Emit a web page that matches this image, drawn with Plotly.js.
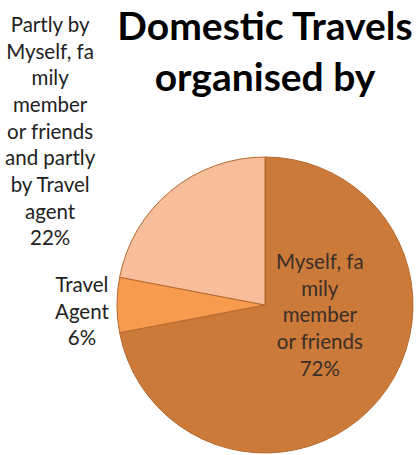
<!DOCTYPE html>
<html><head><meta charset="utf-8">
<script src="https://cdn.plot.ly/plotly-3.0.1.min.js"></script>
<style>html,body{margin:0;padding:0;background:#fff;}#chart{width:418px;height:455px;}</style>
</head><body><div id="chart"></div>
<script>
const labels = ["Myself, family member or friends", "Travel Agent", "Partly by Myself, family member or friends and partly by Travel agent"];
const displayLabels = ["Myself, fa<br>mily<br>member<br>or friends", "Travel<br>Agent", "Partly by<br>Myself, fa<br>mily<br>member<br>or friends<br>and partly<br>by Travel<br>agent"];
const values = [72, 6, 22];
const colors = ["#CB7A3A", "#F79B4F", "#F8BE9C"];

// label placement (paper fractions), styling only
const labelPos = [[320/418, 1 - 314/455], [82/418, 1 - 310/455], [50/418, 1 - 130/455]];
const labelColors = ['#3a2f28', '#222', '#222'];

const total = values.reduce((a, b) => a + b, 0);
const annotations = values.map((v, i) => ({
  text: displayLabels[i] + '<br>' + Math.round(100 * v / total) + '%',
  xref: 'paper', yref: 'paper', x: labelPos[i][0], y: labelPos[i][1],
  xanchor: 'center', yanchor: 'middle', align: 'center', showarrow: false,
  font: {family: 'Lato, sans-serif', size: 20.5, color: labelColors[i]}
}));

Plotly.newPlot('chart', [{
  type: 'pie',
  labels: labels,
  values: values,
  sort: false,
  direction: 'clockwise',
  rotation: 0,
  marker: {colors: colors, line: {color: '#B5692F', width: 1}},
  textinfo: 'none',
  automargin: false,
  showlegend: false,
  hoverinfo: 'label+percent',
  domain: {x: [0.2799, 0.988], y: [0.0044, 0.655]}
}], {
  width: 418, height: 455,
  margin: {l: 0, r: 0, t: 0, b: 0},
  paper_bgcolor: '#fff',
  title: {text: '<b>Domestic Travels<br>organised by</b>', x: 265/418, xanchor: 'center', y: 0.912, yanchor: 'top',
          font: {family: 'Lato, sans-serif', size: 39, color: '#000'}},
  annotations: annotations,
  showlegend: false
}, {displayModeBar: false});
</script></body></html>
